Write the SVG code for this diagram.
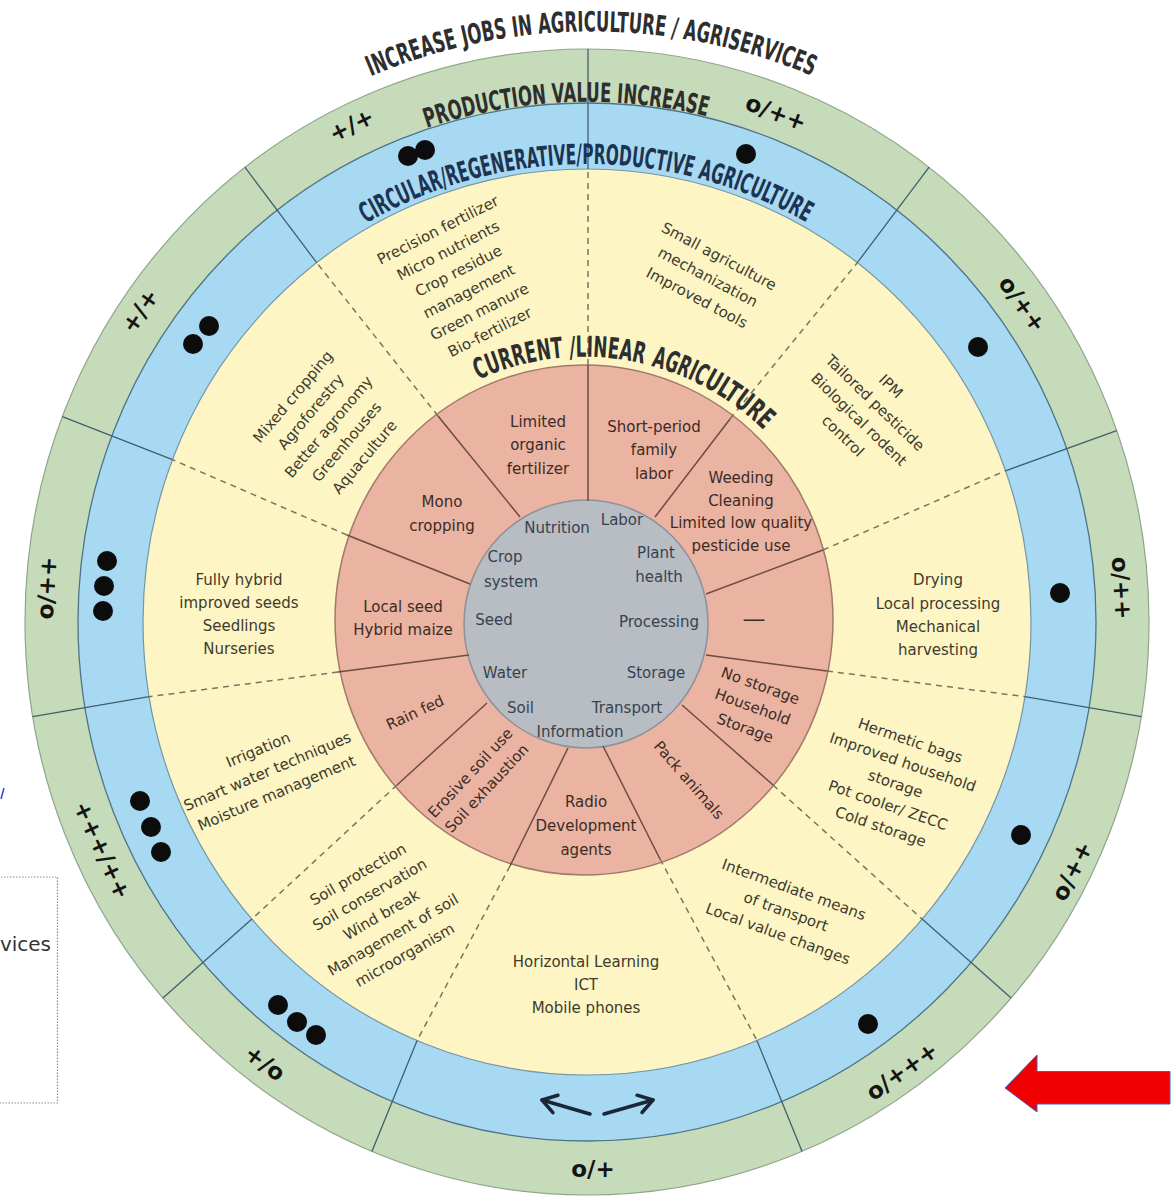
<svg xmlns="http://www.w3.org/2000/svg" width="1173" height="1198" viewBox="0 0 1173 1198">
  <style>
    .head { font-family: 'DejaVu Sans Condensed', 'DejaVu Sans', sans-serif; font-stretch: condensed; font-weight: bold; fill: #2e2e2e; }
    .navy { fill: #1d3352; }
    .lbl { font-family: 'DejaVu Sans', sans-serif; font-weight: bold; font-size: 23px; fill: #141414; text-anchor: middle; }
    .yt { font-family: 'DejaVu Sans', sans-serif; font-size: 15px; fill: #3d3b2e; text-anchor: middle; }
    .pt { font-family: 'DejaVu Sans', sans-serif; font-size: 15px; fill: #3b2c27; text-anchor: middle; }
    .gt { font-family: 'DejaVu Sans', sans-serif; font-size: 15px; fill: #37424d; text-anchor: middle; }
    .div { stroke: #41606e; stroke-width: 1.3; fill: none; }
    .dash { stroke: #7a765e; stroke-width: 1.5; stroke-dasharray: 6 5; fill: none; }
    .pdiv { stroke: #6d4c44; stroke-width: 1.5; fill: none; }
    .dot { fill: #0c0c0c; }
  </style>
  <defs>
    <marker id="chev" viewBox="-20 -12 24 24" markerWidth="24" markerHeight="24" refX="0" refY="0" orient="auto" markerUnits="userSpaceOnUse">
      <path d="M-14,-9 L0,0 L-14,9" fill="none" stroke="#1b2636" stroke-width="3.5" stroke-linecap="round" stroke-linejoin="round"/>
    </marker>
    <path id="arcJobs" d="M 370.9 76.3 A 577 588.5 0 0 1 880 110"/>
    <path id="arcValue" d="M 426.9 128.1 A 510 520.2 0 0 1 802.5 150.5"/>
    <path id="arcCircular" d="M 365.9 223.4 A 449 458 0 0 1 844.5 246.8"/>
    <path id="arcCurrent" d="M 478.3 379.7 A 260 265.2 0 0 1 783.2 451.5"/>
  </defs>

  <!-- legend box, partly outside the page -->
  <g id="legend">
    <rect x="-20" y="877" width="77.5" height="226" fill="#ffffff" stroke="#8c8c8c" stroke-width="1.2" stroke-dasharray="1.5 1.5"/>
    <text x="51" y="951" font-family="'DejaVu Sans', sans-serif" font-size="20" fill="#333" text-anchor="end">vices</text>
    <line x1="1" y1="799" x2="4" y2="788" stroke="#2a48d0" stroke-width="1.5"/>
  </g>

  <!-- rings -->
  <g id="rings">
    <ellipse cx="587" cy="622" rx="562" ry="573" fill="#c6dbb9" stroke="#8fa58a" stroke-width="1.2"/>
    <ellipse cx="587" cy="622" rx="509" ry="519" fill="#a8d9f3" stroke="#4f7486" stroke-width="1.3"/>
    <ellipse cx="587" cy="622" rx="444" ry="453" fill="#fdf5c4" stroke="#7596a4" stroke-width="1.2"/>
    <ellipse cx="584" cy="620" rx="249" ry="255" fill="#ebb3a1" stroke="#a27a6c" stroke-width="1.5"/>
    <ellipse cx="586" cy="624" rx="122" ry="124" fill="#b8bcc3" stroke="#8d9198" stroke-width="1.5"/>
  </g>

  <!-- connectors: sector dividers -->
  <g id="connectors">
    <g class="div">
      <line x1="588" y1="169" x2="588" y2="49"/>
      <line x1="857.3" y1="262.7" x2="929.1" y2="167.2"/>
      <line x1="1005.5" y1="470.8" x2="1116.7" y2="430.7"/>
      <line x1="1024.9" y1="696.7" x2="1141.3" y2="716.6"/>
      <line x1="922.1" y1="919.1" x2="1011.1" y2="998.1"/>
      <line x1="756.9" y1="1040.4" x2="802.1" y2="1151.6"/>
      <line x1="417.1" y1="1040.4" x2="371.9" y2="1151.6"/>
      <line x1="251.9" y1="919.1" x2="162.9" y2="998.1"/>
      <line x1="149.1" y1="696.7" x2="32.7" y2="716.6"/>
      <line x1="172.5" y1="459.7" x2="62.3" y2="416.6"/>
      <line x1="316.7" y1="262.7" x2="244.9" y2="167.2"/>
    </g>
    <g class="dash">
      <line x1="588" y1="365" x2="588" y2="169"/>
      <line x1="438" y1="416" x2="316.7" y2="262.7"/>
      <line x1="347" y1="535" x2="172.5" y2="459.7"/>
      <line x1="338" y1="672" x2="149.1" y2="696.7"/>
      <line x1="397" y1="785" x2="251.9" y2="919.1"/>
      <line x1="510" y1="866" x2="417.1" y2="1040.4"/>
      <line x1="660" y1="859" x2="756.9" y2="1040.4"/>
      <line x1="773" y1="785" x2="922.1" y2="919.1"/>
      <line x1="827" y1="671" x2="1024.9" y2="696.7"/>
      <line x1="823" y1="550" x2="1005.5" y2="470.8"/>
      <line x1="730" y1="419" x2="857.3" y2="262.7"/>
    </g>
    <g class="pdiv">
      <line x1="588" y1="365" x2="588" y2="501"/>
      <line x1="438" y1="416" x2="520" y2="517"/>
      <line x1="347" y1="535" x2="470" y2="584"/>
      <line x1="338" y1="672" x2="469" y2="655"/>
      <line x1="397" y1="785" x2="487" y2="703"/>
      <line x1="510" y1="866" x2="568" y2="748"/>
      <line x1="660" y1="859" x2="603" y2="746"/>
      <line x1="773" y1="785" x2="682" y2="705"/>
      <line x1="827" y1="671" x2="706" y2="655"/>
      <line x1="823" y1="550" x2="706" y2="594"/>
      <line x1="730" y1="419" x2="655" y2="517"/>
    </g>
    <!-- two-way arrow in the blue ring -->
    <line x1="590" y1="1114" x2="542" y2="1100" stroke="#1b2636" stroke-width="3.5" stroke-linecap="round" marker-end="url(#chev)"/>
    <line x1="604" y1="1114" x2="653" y2="1100" stroke="#1b2636" stroke-width="3.5" stroke-linecap="round" marker-end="url(#chev)"/>
  </g>

  <!-- ring titles along their arcs -->
  <g id="titles">
    <text class="head" font-size="28"><textPath href="#arcJobs" textLength="453" lengthAdjust="spacingAndGlyphs">INCREASE JOBS IN AGRICULTURE / AGRISERVICES</textPath></text>
    <text class="head" font-size="27"><textPath href="#arcValue" textLength="284" lengthAdjust="spacingAndGlyphs">PRODUCTION VALUE INCREASE</textPath></text>
    <text class="head navy" font-size="28"><textPath href="#arcCircular" textLength="461" lengthAdjust="spacingAndGlyphs">CIRCULAR/REGENERATIVE/PRODUCTIVE AGRICULTURE</textPath></text>
    <g id="title-current" class="head" font-size="29">
      <text><textPath href="#arcCurrent" startOffset="0" textLength="88.4" lengthAdjust="spacingAndGlyphs">CURRENT</textPath></text>
      <text><textPath href="#arcCurrent" startOffset="94.7" textLength="74.5" lengthAdjust="spacingAndGlyphs">/LINEAR</textPath></text>
      <text><textPath href="#arcCurrent" startOffset="176.7" textLength="55.5" lengthAdjust="spacingAndGlyphs">AGRIC</textPath></text>
      <text><textPath href="#arcCurrent" startOffset="232.2" textLength="75.7" lengthAdjust="spacingAndGlyphs">ULTURE</textPath></text>
    </g>
  </g>

  <!-- green ring scores -->
  <g id="scores">
    <text class="lbl" dy=".35em" transform="translate(351.5 125) rotate(-26)">+/+</text>
    <text class="lbl" dy=".35em" transform="translate(776 112.5) rotate(21)">o/++</text>
    <text class="lbl" dy=".35em" transform="translate(1022.5 304) rotate(54)">o/++</text>
    <text class="lbl" dy=".35em" transform="translate(1121.7 588) rotate(86.4)">o/++</text>
    <text class="lbl" dy=".35em" transform="translate(1072 871) rotate(-63.3)">o/++</text>
    <text class="lbl" dy=".35em" transform="translate(901.8 1071) rotate(-35.6)">o/+++</text>
    <text class="lbl" dy=".35em" transform="translate(593 1169)">o/+</text>
    <text class="lbl" dy=".35em" transform="translate(265 1063) rotate(36.7)">+/o</text>
    <text class="lbl" dy=".35em" transform="translate(102.3 850) rotate(65.25)">+++/++</text>
    <text class="lbl" dy=".35em" transform="translate(46.7 588) rotate(-86.5)">o/++</text>
    <text class="lbl" dy=".35em" transform="translate(140 310.8) rotate(-55.7)">+/+</text>
  </g>

  <!-- blue ring dots -->
  <g id="dots">
    <circle class="dot" cx="408" cy="156" r="10"/>
    <circle class="dot" cx="425" cy="150" r="10"/>
    <circle class="dot" cx="746" cy="154" r="10"/>
    <circle class="dot" cx="193" cy="344" r="10"/>
    <circle class="dot" cx="209" cy="326" r="10"/>
    <circle class="dot" cx="978" cy="347" r="10"/>
    <circle class="dot" cx="107" cy="561" r="10"/>
    <circle class="dot" cx="104" cy="586" r="10"/>
    <circle class="dot" cx="103" cy="611" r="10"/>
    <circle class="dot" cx="1060" cy="593" r="10"/>
    <circle class="dot" cx="140" cy="801" r="10"/>
    <circle class="dot" cx="151" cy="827" r="10"/>
    <circle class="dot" cx="161" cy="852" r="10"/>
    <circle class="dot" cx="1021" cy="835" r="10"/>
    <circle class="dot" cx="278" cy="1005" r="10"/>
    <circle class="dot" cx="297" cy="1022" r="10"/>
    <circle class="dot" cx="316" cy="1035" r="10"/>
    <circle class="dot" cx="868" cy="1024" r="10"/>
  </g>

  <!-- yellow ring: improved practices -->
  <g id="nutrition-practices" class="yt" transform="translate(463.75 281) rotate(-27)">
    <text y="-57.25" dy=".35em">Precision fertilizer</text>
    <text y="-34.35" dy=".35em">Micro nutrients</text>
    <text y="-11.45" dy=".35em">Crop residue</text>
    <text y="11.45" dy=".35em">management</text>
    <text y="34.35" dy=".35em">Green manure</text>
    <text y="57.25" dy=".35em">Bio-fertilizer</text>
  </g>
  <g id="labor-practices" class="yt" transform="translate(708 277) rotate(28)">
    <text y="-23.5" dy=".35em">Small agriculture</text>
    <text y="0" dy=".35em">mechanization</text>
    <text y="23.5" dy=".35em">Improved tools</text>
  </g>
  <g id="plant-health-practices" class="yt" transform="translate(867 411) rotate(44)">
    <text y="-34.5" dy=".35em">IPM</text>
    <text y="-11.5" dy=".35em">Tailored pesticide</text>
    <text y="11.5" dy=".35em">Biological rodent</text>
    <text y="34.5" dy=".35em">control</text>
  </g>
  <g id="processing-practices" class="yt" transform="translate(938 615)">
    <text y="-34.95" dy=".35em">Drying</text>
    <text y="-11.65" dy=".35em">Local processing</text>
    <text y="11.65" dy=".35em">Mechanical</text>
    <text y="34.95" dy=".35em">harvesting</text>
  </g>
  <g id="storage-practices" class="yt" transform="translate(895.5 783.5) rotate(19)">
    <text y="-45.6" dy=".35em">Hermetic bags</text>
    <text y="-22.8" dy=".35em">Improved household</text>
    <text y="0" dy=".35em">storage</text>
    <text y="22.8" dy=".35em">Pot cooler/ ZECC</text>
    <text y="45.6" dy=".35em">Cold storage</text>
  </g>
  <g id="transport-practices" class="yt" transform="translate(786 911.5) rotate(20)">
    <text y="-23.5" dy=".35em">Intermediate means</text>
    <text y="0" dy=".35em">of transport</text>
    <text y="23.5" dy=".35em">Local value changes</text>
  </g>
  <g id="information-practices" class="yt" transform="translate(586 985)">
    <text y="-23" dy=".35em">Horizontal Learning</text>
    <text y="0" dy=".35em">ICT</text>
    <text y="23" dy=".35em">Mobile phones</text>
  </g>
  <g id="soil-practices" class="yt" transform="translate(381.3 914.6) rotate(-30)">
    <text y="-46.6" dy=".35em">Soil protection</text>
    <text y="-23.3" dy=".35em">Soil conservation</text>
    <text y="0" dy=".35em">Wind break</text>
    <text y="23.3" dy=".35em">Management of soil</text>
    <text y="46.6" dy=".35em">microorganism</text>
  </g>
  <g id="water-practices" class="yt" transform="translate(267.3 771.3) rotate(-23)">
    <text y="-23.5" dy=".35em">Irrigation</text>
    <text y="0" dy=".35em">Smart water techniques</text>
    <text y="23.5" dy=".35em">Moisture management</text>
  </g>
  <g id="seed-practices" class="yt" transform="translate(239 614.5)">
    <text y="-34.5" dy=".35em">Fully hybrid</text>
    <text y="-11.5" dy=".35em">improved seeds</text>
    <text y="11.5" dy=".35em">Seedlings</text>
    <text y="34.5" dy=".35em">Nurseries</text>
  </g>
  <g id="crop-system-practices" class="yt" transform="translate(328.6 426.8) rotate(-50)">
    <text y="-46.8" dy=".35em">Mixed cropping</text>
    <text y="-23.4" dy=".35em">Agroforestry</text>
    <text y="0" dy=".35em">Better agronomy</text>
    <text y="23.4" dy=".35em">Greenhouses</text>
    <text y="46.8" dy=".35em">Aquaculture</text>
  </g>

  <!-- pink ring: current practices -->
  <g id="nutrition-current" class="pt" transform="translate(538 445)">
    <text y="-23.3" dy=".35em">Limited</text>
    <text y="0" dy=".35em">organic</text>
    <text y="23.3" dy=".35em">fertilizer</text>
  </g>
  <g id="labor-current" class="pt" transform="translate(654 450)">
    <text y="-23.3" dy=".35em">Short-period</text>
    <text y="0" dy=".35em">family</text>
    <text y="23.3" dy=".35em">labor</text>
  </g>
  <g id="plant-health-current" class="pt" transform="translate(741 511.5)">
    <text y="-33.75" dy=".35em">Weeding</text>
    <text y="-11.25" dy=".35em">Cleaning</text>
    <text y="11.25" dy=".35em">Limited low quality</text>
    <text y="33.75" dy=".35em">pesticide use</text>
  </g>
  <g id="processing-current" class="pt">
    <text x="754" y="627" font-size="23">—</text>
  </g>
  <g id="storage-current" class="pt" transform="translate(752.8 706.7) rotate(20)">
    <text y="-22.5" dy=".35em">No storage</text>
    <text y="0" dy=".35em">Household</text>
    <text y="22.5" dy=".35em">Storage</text>
  </g>
  <g id="transport-current" class="pt" transform="translate(689 780) rotate(49)">
    <text y="0" dy=".35em">Pack animals</text>
  </g>
  <g id="information-current" class="pt" transform="translate(586 826)">
    <text y="-24" dy=".35em">Radio</text>
    <text y="0" dy=".35em">Development</text>
    <text y="24" dy=".35em">agents</text>
  </g>
  <g id="soil-current" class="pt" transform="translate(478.5 780.5) rotate(-47)">
    <text y="-11.3" dy=".35em">Erosive soil use</text>
    <text y="11.3" dy=".35em">Soil exhaustion</text>
  </g>
  <g id="water-current" class="pt" transform="translate(415 712.5) rotate(-25)">
    <text y="0" dy=".35em">Rain fed</text>
  </g>
  <g id="seed-current" class="pt" transform="translate(403 618.3)">
    <text y="-11.65" dy=".35em">Local seed</text>
    <text y="11.65" dy=".35em">Hybrid maize</text>
  </g>
  <g id="crop-system-current" class="pt" transform="translate(442 514)">
    <text y="-12" dy=".35em">Mono</text>
    <text y="12" dy=".35em">cropping</text>
  </g>

  <!-- grey core: themes -->
  <g id="themes" class="gt">
    <text x="557" y="528" dy=".35em">Nutrition</text>
    <text x="622" y="520" dy=".35em">Labor</text>
    <text x="505" y="557" dy=".35em">Crop</text>
    <text x="511" y="582" dy=".35em">system</text>
    <text x="656" y="553" dy=".35em">Plant</text>
    <text x="659" y="577" dy=".35em">health</text>
    <text x="494" y="620" dy=".35em">Seed</text>
    <text x="659" y="622" dy=".35em">Processing</text>
    <text x="505" y="673" dy=".35em">Water</text>
    <text x="656" y="673" dy=".35em">Storage</text>
    <text x="520.5" y="708" dy=".35em">Soil</text>
    <text x="627" y="708" dy=".35em">Transport</text>
    <text x="580" y="732" dy=".35em">Information</text>
  </g>

  <!-- pointer arrow -->
  <g id="pointer">
    <polygon points="1170,1071.5 1037,1071.5 1037,1055 1005,1088 1037,1112 1037,1104 1170,1104" fill="#f00000" stroke="#3c5fc8" stroke-width="1"/>
  </g>
</svg>
